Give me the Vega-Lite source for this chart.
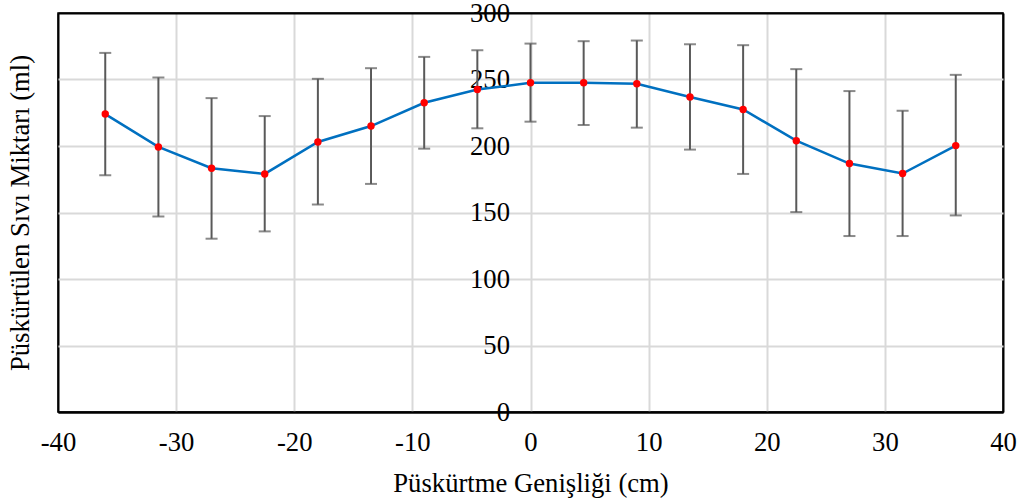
{
  "$schema": "https://vega.github.io/schema/vega-lite/v6.json",
  "width": 945,
  "height": 399,
  "autosize": {"type": "none"},
  "padding": {"left": 58, "top": 13, "right": 20, "bottom": 89},
  "background": "white",
  "config": {
    "font": "Liberation Serif",
    "view": {"stroke": "black", "strokeWidth": 1.5},
    "axis": {"labelFont": "Liberation Serif", "titleFont": "Liberation Serif", "labelColor": "black", "titleColor": "black", "titleFontWeight": "normal"}
  },
  "data": {
    "values": [
      {"x": -36, "y": 224, "lo": 178, "hi": 270},
      {"x": -31.5, "y": 199.3, "lo": 147, "hi": 251.5},
      {"x": -27, "y": 183.3, "lo": 130.3, "hi": 236},
      {"x": -22.5, "y": 179, "lo": 135.8, "hi": 222.5},
      {"x": -18, "y": 203, "lo": 156, "hi": 250.5},
      {"x": -13.5, "y": 215, "lo": 171.5, "hi": 258.5},
      {"x": -9, "y": 232.5, "lo": 198, "hi": 267},
      {"x": -4.5, "y": 242.5, "lo": 213.3, "hi": 272},
      {"x": 0, "y": 247.5, "lo": 218.3, "hi": 277},
      {"x": 4.5, "y": 247.5, "lo": 215.8, "hi": 278.8},
      {"x": 9, "y": 246.8, "lo": 213.8, "hi": 279.3},
      {"x": 13.5, "y": 236.8, "lo": 197.3, "hi": 276.5},
      {"x": 18, "y": 227.5, "lo": 179, "hi": 275.8},
      {"x": 22.5, "y": 204, "lo": 150.3, "hi": 257.8},
      {"x": 27, "y": 186.8, "lo": 132.3, "hi": 241.3},
      {"x": 31.5, "y": 179.3, "lo": 132.3, "hi": 226.5},
      {"x": 36, "y": 200.3, "lo": 147.8, "hi": 253.5}
    ]
  },
  "layer": [
    {
      "mark": {"type": "errorbar", "ticks": {"size": 12, "color": "#595959", "strokeWidth": 2}, "color": "#595959", "thickness": 2},
      "encoding": {
        "x": {
          "field": "x", "type": "quantitative",
          "scale": {"domain": [-40, 40], "nice": false, "zero": false},
          "axis": {
            "values": [-40, -30, -20, -10, 0, 10, 20, 30, 40],
            "labelExpr": "'' + datum.value",
            "title": "Püskürtme Genişliği (cm)",
            "titleFontSize": 26.67, "labelFontSize": 26.67,
            "ticks": false, "labelPadding": 17, "titlePadding": 15,
            "domainColor": "black", "domainWidth": 2,
            "grid": true,
            "gridColor": {"condition": {"test": "datum.value == 40 || datum.value == -40", "value": "black"}, "value": "#d9d9d9"},
            "gridWidth": 2,
            "labelFlush": false
          }
        },
        "y": {
          "field": "lo", "type": "quantitative",
          "scale": {"domain": [0, 300], "nice": false},
          "axis": {
            "values": [0, 50, 100, 150, 200, 250, 300],
            "title": "Püskürtülen Sıvı Miktarı (ml)",
            "titleFontSize": 26.67, "labelFontSize": 26.67,
            "offset": -472.5,
            "domain": false, "ticks": false, "labelPadding": 21,
            "grid": true,
            "gridColor": {"condition": {"test": "datum.value == 300 || datum.value == 0", "value": "black"}, "value": "#d9d9d9"},
            "gridWidth": 2,
            "labelFlush": false,
            "titleX": -510, "titleY": 199.5, "titleAngle": -90, "titleAlign": "center", "titleBaseline": "middle"
          }
        },
        "y2": {"field": "hi"}
      }
    },
    {
      "mark": {"type": "line", "color": "#0070C0", "strokeWidth": 2.5},
      "encoding": {
        "x": {"field": "x", "type": "quantitative"},
        "y": {"field": "y", "type": "quantitative"}
      }
    },
    {
      "mark": {"type": "point", "filled": true, "color": "#ff0000", "opacity": 1, "size": 55},
      "encoding": {
        "x": {"field": "x", "type": "quantitative"},
        "y": {"field": "y", "type": "quantitative"}
      }
    }
  ]
}
